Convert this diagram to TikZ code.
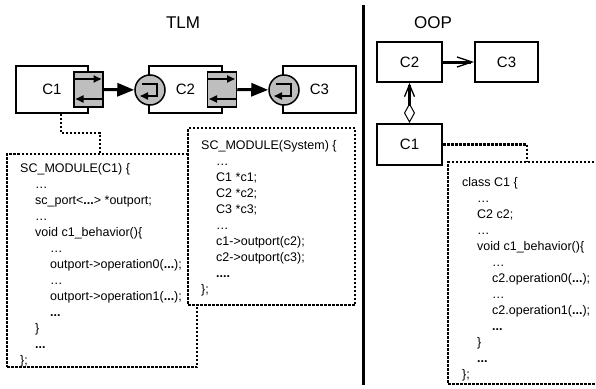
\documentclass[tikz,border=0pt]{standalone}
\usepackage{fontspec}
\setmainfont{Liberation Sans}
\usepackage{tikz}
\usetikzlibrary{arrows.meta, positioning, calc}
\definecolor{portgray}{RGB}{190,190,190}
\definecolor{mydark}{RGB}{0,0,0}
\newcommand{\codeind}{\hspace*{15pt}}
\tikzset{
  title/.style={font=\fontsize{17}{20}\selectfont, inner sep=0pt},
  tlmbox/.style={rectangle, draw=mydark, fill=white, line width=1.5pt,
    minimum height=47pt, inner sep=0pt, font=\fontsize{15}{18}\selectfont},
  oopbox/.style={rectangle, draw=mydark, fill=white, line width=2pt,
    minimum height=40pt, minimum width=65pt, inner sep=0pt,
    font=\fontsize{15}{18}\selectfont},
  portbox/.style={rectangle, draw=mydark, fill=portgray, line width=1.5pt,
    minimum width=29pt, minimum height=35pt, inner sep=0pt},
  inport/.style={circle, draw=mydark, fill=portgray, line width=1.5pt,
    minimum size=30pt, inner sep=0pt},
  codebox/.style={rectangle, draw=mydark, fill=white, line width=2.5pt,
    dash pattern=on 2.5pt off 1.5pt, inner sep=0pt},
  codetext/.style={anchor=north west, align=left, inner sep=0pt,
    font=\fontsize{12.5}{16}\selectfont},
  dotline/.style={line width=2.5pt, dash pattern=on 2.5pt off 1.5pt, color=mydark},
  bigarrow/.style={-{Triangle[length=17pt, width=13pt]}, line width=3pt, color=mydark},
  smallarrow/.style={-{Triangle[length=8pt, width=7pt]}, line width=1.8pt, color=mydark},
  assoc/.style={-{Straight Barb[length=15pt, width=10pt, line width=1.3pt]},
    line width=3pt, color=mydark},
  aggr/.style={{Diamond[open, length=20pt, width=11pt, line width=1pt]}-{Straight Barb[length=12pt, width=10pt, line width=1.3pt]},
    line width=3pt, color=mydark}
}

\begin{document}
\begin{tikzpicture}[x=1pt, y=-1pt]
  \useasboundingbox (0,0) rectangle (596,388);
  \clip (0,0) rectangle (596,388);

  % Titles and divider
  \node[title] (tlm) at (183,23) {TLM};
  \node[title] (oop) at (433,23) {OOP};
  \draw[line width=3pt] (363,5) -- (363,385);

  % TLM components
  \node[tlmbox, minimum width=72pt] (tc1) at (52,89.5) {C1};
  \node[tlmbox, minimum width=73pt] (tc2) at (185.5,89.5) {C2};
  \node[tlmbox, minimum width=73pt] (tc3) at (319.5,89.5) {C3};

  % Ports and interfaces
  \node[portbox] (port1) at (88.5,89.5) {};
  \node[portbox] (port2) at (222,89.5) {};
  \node[inport] (in2) at (150,90) {};
  \node[inport] (in3) at (284,90) {};
  \foreach \p in {port1, port2} {
    \draw[smallarrow] ([shift={(-14.5,-10.5)}]\p.center) -- ([shift={(13,-10.5)}]\p.center);
    \draw[smallarrow] ([shift={(14.5,9.5)}]\p.center) -- ([shift={(-13,9.5)}]\p.center);
  }
  \foreach \c in {in2, in3} {
    \draw[smallarrow] ([shift={(-8,-6)}]\c.center) -- ([shift={(7,-6)}]\c.center)
      -- ([shift={(7,6)}]\c.center) -- ([shift={(-10,6)}]\c.center);
  }

  % Channels
  \draw[bigarrow] (port1) -- (in2);
  \draw[bigarrow] (port2) -- (in3);

  % TLM code
  \coordinate (bendA) at (100,133);
  \node[codebox, minimum width=190pt, minimum height=213pt] (boxA) at (102,260.5) {};
  \draw[dotline] ([xshift=9pt]tc1.south) |- (bendA) -- (bendA |- boxA.north);
  \node[codetext] (codeA) at (20,163) {SC\_MODULE(C1) \{\\
    \codeind …\\
    \codeind sc\_port<\textbf{...}> *outport;\\
    \codeind …\\
    \codeind void c1\_behavior()\{\\
    \codeind\codeind …\\
    \codeind\codeind outport->operation0(\textbf{...});\\
    \codeind\codeind …\\
    \codeind\codeind outport->operation1(\textbf{...});\\
    \codeind\codeind \textbf{...}\\
    \codeind \}\\
    \codeind \textbf{...}\\
    \};};
  \node[codebox, minimum width=167pt, minimum height=177pt] (boxS) at (271.5,216.5) {};
  \node[codetext] (codeS) at (201,140) {SC\_MODULE(System) \{\\
    \codeind …\\
    \codeind C1 *c1;\\
    \codeind C2 *c2;\\
    \codeind C3 *c3;\\
    \codeind …\\
    \codeind c1->outport(c2);\\
    \codeind c2->outport(c3);\\
    \codeind \textbf{....}\\
    \};};

  % OOP classes
  \node[oopbox] (oc2) at (409.5,62) {C2};
  \node[oopbox, minimum width=63pt] (oc3) at (506.5,62) {C3};
  \node[oopbox, minimum height=41pt] (oc1) at (409.5,144.5) {C1};
  \draw[assoc] (oc2) -- (oc3);
  \draw[aggr] (oc1) -- (oc2);

  % OOP code
  \coordinate (bendB) at (527,144.5);
  \node[codebox, minimum width=172pt, minimum height=222pt] (boxB) at (534,273) {};
  \draw[dotline] (oc1.east) -- (bendB) -- (bendB |- boxB.north);
  \node[codetext] (codeB) at (462,177.5) {class C1 \{\\
    \codeind …\\
    \codeind C2 c2;\\
    \codeind …\\
    \codeind void c1\_behavior()\{\\
    \codeind\codeind …\\
    \codeind\codeind c2.operation0(\textbf{...});\\
    \codeind\codeind …\\
    \codeind\codeind c2.operation1(\textbf{...});\\
    \codeind\codeind \textbf{...}\\
    \codeind \}\\
    \codeind \textbf{...}\\
    \};};
\end{tikzpicture}
\end{document}
